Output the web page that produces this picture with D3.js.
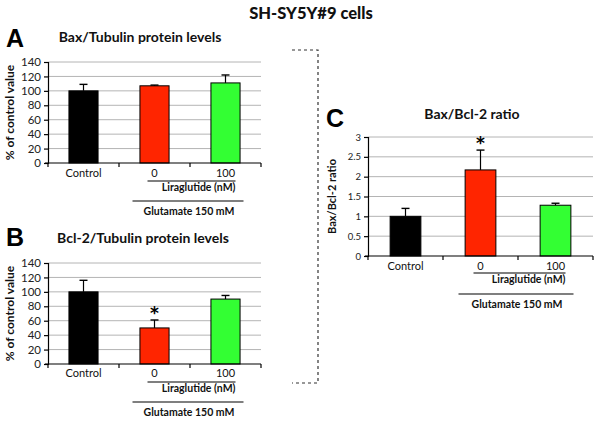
<!DOCTYPE html>
<html>
<head>
<meta charset="utf-8">
<script src="https://cdn.jsdelivr.net/npm/d3@7/dist/d3.min.js"></script>
<style>
  html, body { margin: 0; padding: 0; background: #fff; }
  svg { display: block; font-family: Lato, "Open Sans", sans-serif; }
</style>
</head>
<body>
<svg id="chart" width="600" height="422"></svg>
<script>
// ---- data ----
const categories = ["Control", "0", "100"];
const barColors = ["#000000", "#ff2500", "#33ff33"];

const baxValues = [100, 107, 111];
const baxErrors = [9, 1, 11];

const bclValues = [100, 50, 90];
const bclErrors = [16, 11, 5];
const bclSignificant = [false, true, false];

const ratioValues = [1.0, 2.17, 1.28];
const ratioErrors = [0.2, 0.5, 0.05];
const ratioSignificant = [false, true, false];

const pctTicks = [0, 20, 40, 60, 80, 100, 120, 140];
const ratioTicks = [0, 0.5, 1, 1.5, 2, 2.5, 3];

const mainTitle = "SH-SY5Y#9 cells";
const treatmentLabel = "Liraglutide (nM)";
const conditionLabel = "Glutamate 150 mM";

// ---- layout ----
const svg = d3.select("#chart");

svg.append("text").attr("x", 311).attr("y", 19).attr("text-anchor", "middle")
  .attr("font-size", 16.5).attr("font-weight", "900").attr("fill", "#111").text(mainTitle);

function panel(cfg) {
  const g = svg.append("g");
  const x = d3.scaleBand().domain(categories).range([cfg.x0, cfg.x1])
    .paddingInner(0.59).paddingOuter(0.295);
  const y = d3.scaleLinear().domain([0, cfg.ticks[cfg.ticks.length - 1]]).range([cfg.y0, cfg.y1]);
  const bw = x.bandwidth();
  const cx = c => x(c) + bw / 2;

  // gridlines
  g.selectAll("line.grid").data(cfg.ticks.filter(t => t > 0)).join("line")
    .attr("x1", cfg.x0).attr("x2", cfg.x1)
    .attr("y1", d => y(d)).attr("y2", d => y(d))
    .attr("stroke", "#b4b4b4").attr("stroke-width", 1);

  // y axis
  const yAxis = d3.axisLeft(y).tickValues(cfg.ticks).tickSize(4).tickPadding(3)
    .tickFormat(d => String(d));
  const ya = g.append("g").attr("transform", `translate(${cfg.x0},0)`).call(yAxis);
  ya.select(".domain").attr("stroke", "#000").attr("stroke-width", 1.2);
  ya.selectAll(".tick line").attr("stroke", "#000").attr("stroke-width", 1.2);
  ya.selectAll(".tick text").attr("font-size", cfg.tickFont).attr("fill", "#222")
    .attr("font-family", "Lato, sans-serif");

  // bars
  g.selectAll("rect.bar").data(cfg.values).join("rect")
    .attr("x", (d, i) => x(categories[i])).attr("width", bw)
    .attr("y", d => y(d)).attr("height", d => y(0) - y(d))
    .attr("fill", (d, i) => barColors[i]).attr("stroke", "#000").attr("stroke-width", 1);

  // error bars (upper only)
  cfg.values.forEach((v, i) => {
    const c = cx(categories[i]);
    const top = y(v + cfg.errors[i]);
    g.append("line").attr("x1", c).attr("x2", c).attr("y1", y(v)).attr("y2", top)
      .attr("stroke", "#000").attr("stroke-width", 1.2);
    g.append("line").attr("x1", c - 4).attr("x2", c + 4).attr("y1", top).attr("y2", top)
      .attr("stroke", "#000").attr("stroke-width", 1.4);
    if (cfg.sig && cfg.sig[i]) {
      g.append("text").attr("x", c).attr("y", top - 1).attr("text-anchor", "middle")
        .attr("font-size", 17).attr("font-weight", "bold").attr("fill", "#000")
        .attr("font-family", "DejaVu Sans, sans-serif")
        .text("*");
    }
  });

  // x axis line with boundary ticks
  g.append("line").attr("x1", cfg.x0 - 3).attr("x2", cfg.x1).attr("y1", y(0)).attr("y2", y(0))
    .attr("stroke", "#000").attr("stroke-width", 1.2);
  const step = x.step();
  const bounds = d3.range(categories.length + 1).map(k => cfg.x0 + k * step);
  g.selectAll("line.xt").data(bounds).join("line")
    .attr("x1", d => d).attr("x2", d => d).attr("y1", y(0)).attr("y2", y(0) + 4)
    .attr("stroke", "#000").attr("stroke-width", 1.2);

  // category labels
  g.selectAll("text.cat").data(categories).join("text")
    .attr("x", d => cx(d)).attr("y", cfg.catY).attr("text-anchor", "middle")
    .attr("font-size", 11).attr("fill", "#111").text(d => d);

  // treatment bracket
  const c0 = cx(categories[1]), c1 = cx(categories[2]);
  g.append("line").attr("x1", c0 - 7).attr("x2", c1 + 10).attr("y1", cfg.liraY).attr("y2", cfg.liraY)
    .attr("stroke", "#000").attr("stroke-width", 1.2);
  g.append("text").attr("x", c1 + 10).attr("y", cfg.liraY + 10).attr("text-anchor", "end")
    .attr("font-size", 10.5).attr("font-weight", "bold").attr("fill", "#111").text(treatmentLabel);
  g.append("line").attr("x1", c0 - 22).attr("x2", c1 + 18).attr("y1", cfg.glutY).attr("y2", cfg.glutY)
    .attr("stroke", "#000").attr("stroke-width", 1.2);
  g.append("text").attr("x", (c0 + c1) / 2 - 1).attr("y", cfg.glutY + 14).attr("text-anchor", "middle")
    .attr("font-size", 10.5).attr("font-weight", "bold").attr("fill", "#111").text(conditionLabel);

  // y label
  g.append("text").attr("transform", `translate(${cfg.ylabX},${(cfg.y0 + cfg.y1) / 2}) rotate(-90)`)
    .attr("text-anchor", "middle").attr("font-size", cfg.ylabFont).attr("font-weight", "bold")
    .attr("fill", "#111").text(cfg.ylabel);

  // title and letter
  g.append("text").attr("x", cfg.titleX).attr("y", cfg.titleY).attr("text-anchor", "middle")
    .attr("font-size", 14).attr("font-weight", "bold").attr("fill", "#111").text(cfg.title);
  g.append("text").attr("x", cfg.letterX).attr("y", cfg.letterY)
    .attr("font-family", "Liberation Sans, Arial, sans-serif")
    .attr("font-size", 25).attr("font-weight", "bold").attr("fill", "#000").text(cfg.letter);
}

panel({ x0: 48, x1: 261, y0: 163, y1: 62, ticks: pctTicks, values: baxValues, errors: baxErrors,
  tickFont: 11.5, catY: 177, liraY: 181, glutY: 201, ylabX: 14, ylabFont: 12,
  ylabel: "% of control value", title: "Bax/Tubulin protein levels", titleX: 140, titleY: 42,
  letter: "A", letterX: 6, letterY: 47 });

panel({ x0: 48, x1: 261, y0: 364, y1: 263, ticks: pctTicks, values: bclValues, errors: bclErrors,
  sig: bclSignificant, tickFont: 11.5, catY: 377, liraY: 382, glutY: 402, ylabX: 14, ylabFont: 12,
  ylabel: "% of control value", title: "Bcl-2/Tubulin protein levels", titleX: 143, titleY: 243,
  letter: "B", letterX: 6, letterY: 246 });

panel({ x0: 368, x1: 593, y0: 256, y1: 137, ticks: ratioTicks, values: ratioValues, errors: ratioErrors,
  sig: ratioSignificant, tickFont: 9.5, catY: 270, liraY: 273, glutY: 294, ylabX: 336, ylabFont: 11,
  ylabel: "Bax/Bcl-2 ratio", title: "Bax/Bcl-2 ratio", titleX: 472, titleY: 119,
  letter: "C", letterX: 326, letterY: 127 });

// dashed bracket
svg.append("path").attr("d", "M292,50 H318 V383 H292")
  .attr("fill", "none").attr("stroke", "#333").attr("stroke-width", 1.2).attr("stroke-dasharray", "3,3");
</script>
</body>
</html>
